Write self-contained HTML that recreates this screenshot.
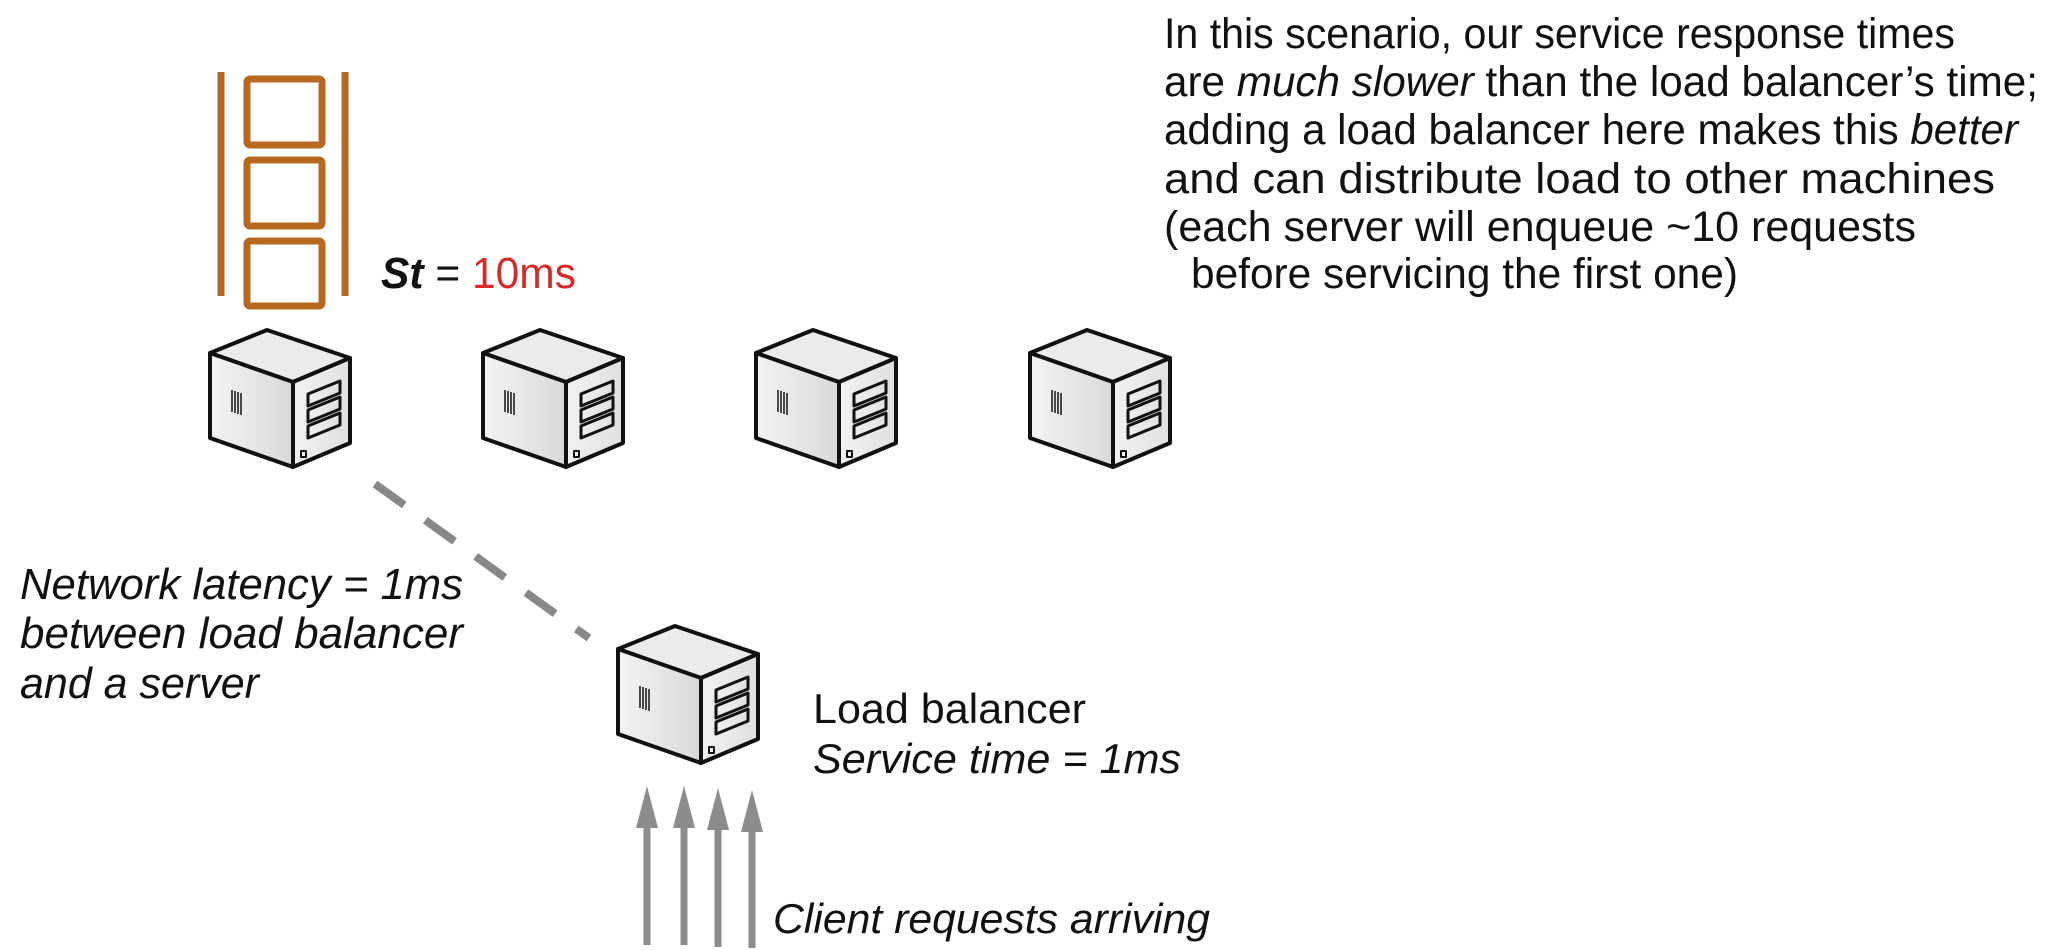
<!DOCTYPE html>
<html><head><meta charset="utf-8"><style>
html,body{margin:0;padding:0;background:#fff;}
svg{display:block;}
text{font-family:"Liberation Sans",Arial,sans-serif;fill:#111;}
</style></head><body>
<svg width="2062" height="950" viewBox="0 0 2062 950" xmlns="http://www.w3.org/2000/svg">
<defs>
<linearGradient id="gl" x1="0" y1="0" x2="1" y2="0"><stop offset="0" stop-color="#f4f4f4"/><stop offset="1" stop-color="#d9d9d9"/></linearGradient>
<linearGradient id="gr" x1="0" y1="0" x2="1" y2="0"><stop offset="0" stop-color="#f2f2f2"/><stop offset="1" stop-color="#e0e0e0"/></linearGradient>
<g id="srv" stroke="#111" stroke-linejoin="round">
<polygon points="0,23 57,0 140,28 83,52" fill="#ebebeb" stroke-width="4"/>
<polygon points="0,23 83,52 83,137 0,108" fill="url(#gl)" stroke-width="4"/>
<polygon points="83,52 140,28 140,113 83,137" fill="url(#gr)" stroke-width="4"/>
<g stroke-width="1.5"><line x1="22" y1="60" x2="22" y2="82"/><line x1="25" y1="61" x2="25" y2="83"/><line x1="28" y1="62" x2="28" y2="84"/><line x1="31" y1="63" x2="31" y2="85"/></g>
<g fill="none" stroke-width="3">
<polygon points="98,64 130,51 130,63 98,76"/>
<polygon points="98,80 130,67 130,79 98,92"/>
<polygon points="98,96 130,83 130,95 98,108"/>
<rect x="91" y="121" width="5" height="6" stroke-width="2"/>
</g>
</g>
</defs>
<g stroke="#b5681e" fill="none" stroke-width="7" stroke-linejoin="round">
<line x1="221" y1="72" x2="221" y2="296"/>
<line x1="345" y1="72" x2="345" y2="296"/>
<rect x="247" y="79" width="75" height="66" rx="3"/>
<rect x="247" y="160" width="75" height="66" rx="3"/>
<rect x="247" y="241" width="75" height="65" rx="3"/>
</g>
<text x="381" y="288" font-size="44" textLength="195" lengthAdjust="spacingAndGlyphs"><tspan font-weight="bold" font-style="italic">St</tspan> = <tspan fill="#d42a2a" style="fill:#d42a2a">10ms</tspan></text>
<use href="#srv" x="210" y="330"/>
<use href="#srv" x="483" y="330"/>
<use href="#srv" x="756" y="330"/>
<use href="#srv" x="1030" y="330"/>
<use href="#srv" x="618" y="626"/>
<line x1="375" y1="484" x2="589" y2="638" stroke="#888" stroke-width="8" stroke-dasharray="36 26"/>
<g fill="#8c8c8c" stroke="#8c8c8c">
<line x1="647" y1="820" x2="647" y2="945" stroke-width="7"/><polygon points="647,786 636,828 658,828" stroke="none"/>
<line x1="684" y1="820" x2="684" y2="945" stroke-width="7"/><polygon points="684,786 673,828 695,828" stroke="none"/>
<line x1="718" y1="820" x2="718" y2="947" stroke-width="7"/><polygon points="718,788 707,830 729,830" stroke="none"/>
<line x1="752" y1="820" x2="752" y2="948" stroke-width="7"/><polygon points="752,790 741,832 763,832" stroke="none"/>
</g>
<g font-size="43">
<text x="1164" y="48" textLength="791" lengthAdjust="spacingAndGlyphs">In this scenario, our service response times</text>
<text x="1164" y="96" textLength="874" lengthAdjust="spacingAndGlyphs">are <tspan font-style="italic">much slower</tspan> than the load balancer’s time;</text>
<text x="1164" y="144" textLength="854" lengthAdjust="spacingAndGlyphs">adding a load balancer here makes this <tspan font-style="italic">better</tspan></text>
<text x="1164" y="193" textLength="831" lengthAdjust="spacingAndGlyphs">and can distribute load to other machines</text>
<text x="1164" y="241" textLength="752" lengthAdjust="spacingAndGlyphs">(each server will enqueue ~10 requests</text>
<text x="1191" y="288" textLength="547" lengthAdjust="spacingAndGlyphs">before servicing the first one)</text>
</g>
<g font-size="44" font-style="italic">
<text x="20" y="599" textLength="443" lengthAdjust="spacingAndGlyphs">Network latency = 1ms</text>
<text x="20" y="648" textLength="443" lengthAdjust="spacingAndGlyphs">between load balancer</text>
<text x="20" y="698" textLength="239" lengthAdjust="spacingAndGlyphs">and a server</text>
</g>
<text x="813" y="723" font-size="42" textLength="273" lengthAdjust="spacingAndGlyphs">Load balancer</text>
<text x="813" y="773" font-size="42" font-style="italic" textLength="368" lengthAdjust="spacingAndGlyphs">Service time = 1ms</text>
<text x="773" y="933" font-size="42" font-style="italic" textLength="437" lengthAdjust="spacingAndGlyphs">Client requests arriving</text>
</svg>
</body></html>
